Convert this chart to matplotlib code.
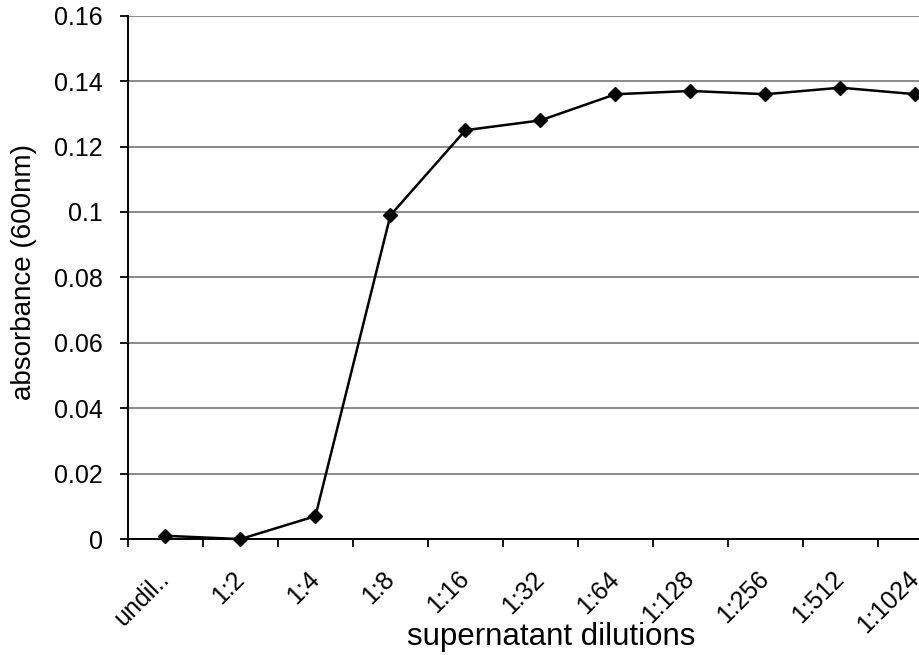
import matplotlib.pyplot as plt

plt.rcParams['font.family'] = ['Liberation Sans', 'DejaVu Sans']

# dilution series and measured absorbance
dilutions = ['undil..', '1:2', '1:4', '1:8', '1:16', '1:32', '1:64',
             '1:128', '1:256', '1:512', '1:1024']
absorbance = [0.001, 0.0, 0.007, 0.099, 0.125, 0.128, 0.136,
              0.137, 0.136, 0.138, 0.136]
y_ticks = [0, 0.02, 0.04, 0.06, 0.08, 0.1, 0.12, 0.14, 0.16]
y_tick_labels = ['0', '0.02', '0.04', '0.06', '0.08', '0.1', '0.12', '0.14', '0.16']

fig = plt.figure(figsize=(9.2, 6.55), dpi=100)
ax = fig.add_axes([0.139, 0.177, 0.861, 0.799])

x = list(range(len(dilutions)))
ax.plot(x, absorbance, color='black', linewidth=1.8, marker='D', markersize=7.5,
        zorder=3, clip_on=False)

# horizontal grid like the spreadsheet chart
ax.set_yticks(y_ticks)
ax.set_yticklabels(y_tick_labels, fontsize=18)
ax.set_ylim(0, 0.16)
ax.yaxis.grid(True, color='#808080', linewidth=1.3)
ax.set_axisbelow(True)

# category ticks sit between points
ax.set_xticks([i - 0.5 for i in range(len(dilutions) + 1)])
ax.set_xticklabels([])
ax.set_xticks(x, minor=True)
ax.set_xticklabels(dilutions, minor=True, rotation=45, ha='right', va='center',
                   rotation_mode='anchor', fontsize=18)
ax.set_xlim(-0.5, 10.06)
ax.tick_params(axis='x', which='minor', length=0, pad=26)
ax.tick_params(axis='x', which='major', length=6, width=1.3, direction='out')
ax.tick_params(axis='y', length=6, width=1.3, direction='out', pad=12)

for side in ['top', 'right']:
    ax.spines[side].set_visible(False)
for side in ['left', 'bottom']:
    ax.spines[side].set_linewidth(1.4)

ax.set_ylabel('absorbance (600nm)', fontsize=20, va='center')
ax.yaxis.set_label_coords(-0.131, 0.51)
ax.set_xlabel('supernatant dilutions', fontsize=22.5, va='center')
ax.xaxis.set_label_coords(0.535, -0.187)

fig.savefig('out.png', dpi=100)
